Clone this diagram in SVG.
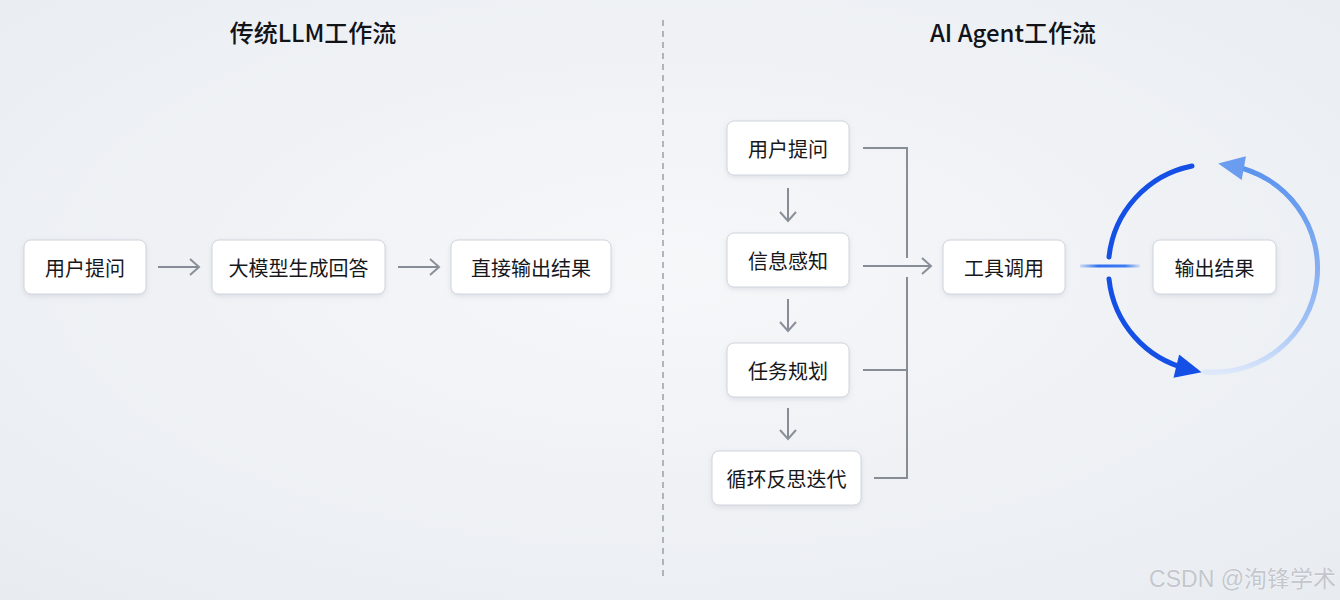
<svg xmlns="http://www.w3.org/2000/svg" width="1340" height="600" viewBox="0 0 1340 600">
  <defs>
    <radialGradient id="bg" cx="50%" cy="45%" r="75%">
      <stop offset="0" stop-color="#f6f7f9"/>
      <stop offset="1" stop-color="#e8ecf1"/>
    </radialGradient>
    <filter id="sh" x="-20%" y="-30%" width="140%" height="170%">
      <feDropShadow dx="0" dy="2" stdDeviation="2.5" flood-color="#8c96a6" flood-opacity="0.22"/>
    </filter>
    <marker id="ga" markerUnits="userSpaceOnUse" markerWidth="22" markerHeight="22" viewBox="0 0 22 22" refX="19" refY="11" orient="auto">
      <path d="M10 3 L19 11 L10 19" fill="none" stroke="#8a9099" stroke-width="2" stroke-linejoin="miter"/>
    </marker>
    <marker id="ba" markerUnits="userSpaceOnUse" markerWidth="30" markerHeight="30" viewBox="0 0 30 30" refX="14" refY="15" orient="auto">
      <path d="M2 3 L28 15 L2 27 Z" fill="#1550e6"/>
    </marker>
    <marker id="la" markerUnits="userSpaceOnUse" markerWidth="30" markerHeight="30" viewBox="0 0 30 30" refX="14" refY="15" orient="auto">
      <path d="M2 3 L28 15 L2 27 Z" fill="#6a9cf0"/>
    </marker>
    <linearGradient id="rg" gradientUnits="userSpaceOnUse" x1="1205" y1="372" x2="1225" y2="165">
      <stop offset="0" stop-color="#dde8fb"/>
      <stop offset="0.3" stop-color="#9dbff5"/>
      <stop offset="1" stop-color="#5b93ee"/>
    </linearGradient>
    <linearGradient id="hl" gradientUnits="userSpaceOnUse" x1="1080" y1="0" x2="1140" y2="0">
      <stop offset="0" stop-color="#3d7cf0" stop-opacity="0.2"/>
      <stop offset="0.3" stop-color="#2f6ff0"/>
      <stop offset="0.75" stop-color="#3d7cf0"/>
      <stop offset="1" stop-color="#3d7cf0" stop-opacity="0.15"/>
    </linearGradient>
    <style>
      .box { fill: #ffffff; stroke: #cfd4dc; stroke-width: 1; filter: url(#sh); }
      .t { font-family: "Noto Sans CJK SC", "Noto Sans", sans-serif; font-size: 20px; fill: #16181c; text-anchor: middle; dominant-baseline: central; }
      .title { font-family: "Noto Sans CJK SC", "Noto Sans", sans-serif; font-size: 24px; font-weight: 500; fill: #111318; text-anchor: middle; }
      .c { fill: none; stroke: #878d96; stroke-width: 2; }
      .blue { fill: none; stroke: #1550e6; stroke-width: 5; stroke-linecap: round; }
    </style>
  </defs>

  <rect width="1340" height="600" fill="url(#bg)"/>

  <text class="title" x="313" y="42">传统LLM工作流</text>
  <text class="title" x="1013" y="42">AI Agent工作流</text>

  <line x1="663" y1="20" x2="663" y2="580" stroke="#9aa0a8" stroke-width="1.5" stroke-dasharray="6 5"/>

  <g id="connectors">
    <line class="c" x1="158" y1="267" x2="199" y2="267" marker-end="url(#ga)"/>
    <line class="c" x1="398" y1="267" x2="439" y2="267" marker-end="url(#ga)"/>
    <line class="c" x1="788" y1="188" x2="788" y2="221" marker-end="url(#ga)"/>
    <line class="c" x1="788" y1="299" x2="788" y2="331" marker-end="url(#ga)"/>
    <line class="c" x1="788" y1="408" x2="788" y2="439" marker-end="url(#ga)"/>
    <path class="c" d="M863 148 H907 V258"/>
    <path class="c" d="M863 370 H907"/>
    <path class="c" d="M874 478 H907 V277"/>
    <line class="c" x1="863" y1="266" x2="931" y2="266" marker-end="url(#ga)"/>
    <line x1="1080" y1="266" x2="1140" y2="266" stroke="url(#hl)" stroke-width="3"/>
    <path class="blue" d="M1192 166 A104 104 0 0 0 1109 257"/>
    <path class="blue" d="M1109 279 A104 104 0 0 0 1188 369" marker-end="url(#ba)"/>
    <path d="M1205 372 A104 104 0 0 0 1232 166" fill="none" stroke="url(#rg)" stroke-width="5" stroke-linecap="round" marker-end="url(#la)"/>
  </g>

  <g id="l-ask"><rect class="box" x="24" y="240" width="122" height="54" rx="7"/><text class="t" x="85" y="267">用户提问</text></g>
  <g id="l-llm"><rect class="box" x="212" y="240" width="173" height="54" rx="7"/><text class="t" x="298.5" y="267">大模型生成回答</text></g>
  <g id="l-out"><rect class="box" x="451" y="240" width="160" height="54" rx="7"/><text class="t" x="531" y="267">直接输出结果</text></g>

  <g id="r-ask"><rect class="box" x="727" y="121" width="122" height="54" rx="7"/><text class="t" x="788" y="148">用户提问</text></g>
  <g id="r-perceive"><rect class="box" x="727" y="233" width="122" height="54" rx="7"/><text class="t" x="788" y="260">信息感知</text></g>
  <g id="r-plan"><rect class="box" x="727" y="343" width="122" height="54" rx="7"/><text class="t" x="788" y="370">任务规划</text></g>
  <g id="r-reflect"><rect class="box" x="712" y="451" width="149" height="54" rx="7"/><text class="t" x="786.5" y="478">循环反思迭代</text></g>
  <g id="r-tool"><rect class="box" x="943" y="240" width="122" height="54" rx="7"/><text class="t" x="1004" y="267">工具调用</text></g>
  <g id="r-out"><rect class="box" x="1153" y="240" width="123" height="54" rx="7"/><text class="t" x="1214.5" y="267">输出结果</text></g>

  <text x="1336" y="587" text-anchor="end" font-family="'Liberation Sans', 'Noto Sans CJK SC', sans-serif" font-size="23" fill="#c3c7cd" stroke="#ffffff" stroke-width="0.5" paint-order="stroke">CSDN @洵锋学术</text>
</svg>
